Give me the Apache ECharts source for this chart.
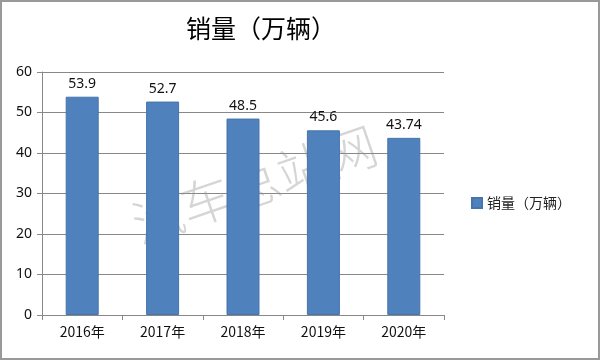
<!DOCTYPE html>
<html><head><meta charset="utf-8">
<script src="https://cdn.jsdelivr.net/npm/echarts@6/dist/echarts.min.js"></script>
<style>html,body{margin:0;padding:0;background:#fff}#c{width:600px;height:360px}</style>
</head><body><div id="c"></div>
<script>
const title = '销量（万辆）';
const categories = ['2016年','2017年','2018年','2019年','2020年'];
const seriesName = '销量（万辆）';
const values = [53.9, 52.7, 48.5, 45.6, 43.74];
const watermark = '汽车总站网';

const chart = echarts.init(document.getElementById('c'));
chart.setOption({
  animation: false,
  backgroundColor: '#fff',
  title: {
    text: title, left: 256, top: 11, textAlign: 'center',
    textStyle: { fontFamily: 'Noto Sans CJK SC', fontSize: 25, fontWeight: 'normal', color: '#000' }
  },
  legend: {
    data: [seriesName], left: 466, top: 191, itemWidth: 10, itemHeight: 10, itemGap: 6,
    icon: 'rect',
    textStyle: { fontFamily: 'Noto Sans CJK SC', fontSize: 14, color: '#222' }
  },
  grid: { left: 42, right: 156, top: 72, bottom: 45 },
  xAxis: {
    type: 'category', data: categories,
    axisLine: { lineStyle: { color: '#888', width: 1 } },
    axisTick: { show: true, length: 5, lineStyle: { color: '#888' } },
    axisLabel: { fontFamily: 'Noto Sans CJK SC', fontSize: 14, color: '#111', margin: 10 }
  },
  yAxis: {
    type: 'value', min: 0, max: 60, interval: 10,
    axisLine: { show: true, lineStyle: { color: '#888' } },
    axisTick: { show: true, length: 5, lineStyle: { color: '#888' } },
    splitLine: { lineStyle: { color: '#888', width: 1 } },
    axisLabel: { fontFamily: 'Noto Sans', fontSize: 14, color: '#111', margin: 10 }
  },
  series: [{
    name: seriesName, type: 'bar', data: values, barWidth: 33, z: 5,
    itemStyle: { color: '#4F81BD', borderColor: '#4674AB', borderWidth: 1 },
    label: { show: true, position: 'top', distance: 6, fontFamily: 'Noto Sans', fontSize: 14, color: '#111' }
  }],
  graphic: [
    { type: 'rect', shape: { x: 1, y: 1, width: 598, height: 358 }, style: { fill: 'none', stroke: '#999', lineWidth: 2 }, z: 100 },
    { type: 'text', x: 142, y: 250, rotation: 19 * Math.PI / 180, z: 1,
      style: { text: watermark, fontFamily: 'Noto Sans CJK SC', fontWeight: 200, fontSize: 51, fill: 'rgba(150,150,150,0.4)', textVerticalAlign: 'bottom' } }
  ]
});
</script></body></html>
